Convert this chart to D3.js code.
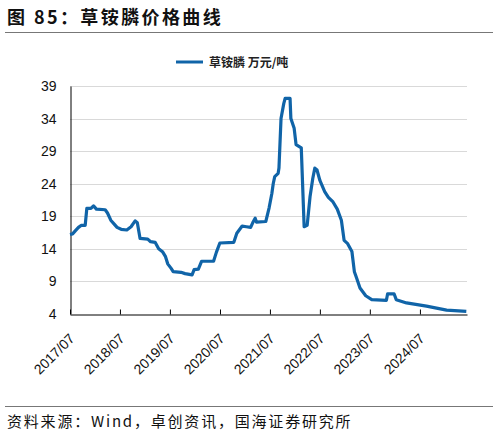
<!DOCTYPE html>
<html>
<head>
<meta charset="utf-8">
<script src="https://cdn.jsdelivr.net/npm/d3@7"></script>
<style>
  html, body { margin: 0; padding: 0; background: #fff; }
  svg { display: block; }
</style>
</head>
<body>
<div id="chart"></div>
<script>
// data
const dates = ["2017-07-01","2017-07-20","2017-08-10","2017-09-01","2017-09-20","2017-10-20","2017-11-01","2017-12-01","2017-12-20","2018-01-10",
  "2018-03-15","2018-04-01","2018-04-25","2018-05-20","2018-06-10","2018-07-10","2018-08-20","2018-09-20","2018-10-20","2018-11-05",
  "2018-11-25","2019-01-20","2019-02-10","2019-03-15","2019-04-10","2019-05-10","2019-05-30","2019-06-15","2019-07-10","2019-07-25",
  "2019-09-20","2019-10-20","2019-12-10","2019-12-25","2020-01-25","2020-02-18","2020-05-15","2020-06-05","2020-06-30","2020-10-10",
  "2020-11-01","2020-12-10","2021-01-10","2021-02-10","2021-02-25","2021-03-15","2021-03-25","2021-06-01","2021-06-25","2021-07-15",
  "2021-07-25","2021-08-05","2021-08-30","2021-09-05","2021-09-20","2021-10-10","2021-10-20","2021-11-25","2021-12-01","2021-12-25",
  "2022-01-08","2022-02-15","2022-03-08","2022-03-30","2022-04-20","2022-05-10","2022-05-25","2022-06-10","2022-07-01","2022-08-05",
  "2022-09-01","2022-10-05","2022-11-05","2022-12-05","2022-12-25","2023-01-20","2023-02-20","2023-03-10","2023-03-25","2023-04-20",
  "2023-06-01","2023-07-15","2023-10-30","2023-11-08","2023-12-25","2024-01-10","2024-03-25","2024-08-18","2025-01-12","2025-06-05"];
const prices = [16.2,16.3,16.8,17.3,17.6,17.6,20.2,20.2,20.6,20.1,
  20.0,19.5,18.4,17.8,17.3,17.0,16.9,17.4,18.3,18.0,
  15.6,15.5,15.1,15.0,14.0,13.5,12.8,11.7,11.0,10.5,
  10.4,10.2,10.0,10.8,10.9,12.1,12.1,13.5,14.9,15.0,
  16.4,17.5,17.4,17.3,18.0,18.7,18.1,18.2,20.3,22.5,
  24.0,25.1,25.6,26.4,34.0,36.3,37.1,37.1,34.0,32.5,
  30.0,29.5,17.4,17.6,22.0,24.8,26.4,26.1,24.5,22.8,
  21.9,21.2,20.1,18.4,15.3,14.8,13.6,10.5,9.6,8.0,
  6.8,6.2,6.1,7.1,7.1,6.2,5.7,5.2,4.6,4.4];
const yTicks = [4, 9, 14, 19, 24, 29, 34, 39];
const xTickLabels = ["2017/07","2018/07","2019/07","2020/07","2021/07","2022/07","2023/07","2024/07"];
const seriesName = "草铵膦 万元/吨";

const W = 498, H = 435;
const parse = d3.timeParse("%Y-%m-%d");
const data = dates.map((d, i) => ({ date: parse(d), value: prices[i] }));

const svg = d3.select("#chart").append("svg")
  .attr("width", W).attr("height", H);

const cjk = "'Noto Sans CJK SC', 'Liberation Sans', sans-serif";
const latin = "'Liberation Sans', Arial, sans-serif";

// title + rules
svg.append("text")
  .attr("x", 7).attr("y", 24)
  .attr("font-family", cjk).attr("font-weight", "bold")
  .attr("font-size", 18).attr("letter-spacing", 2.4).attr("fill", "#111")
  .text("图 85：草铵膦价格曲线");
svg.append("line").attr("x1", 5).attr("x2", 493).attr("y1", 32.5).attr("y2", 32.5)
  .attr("stroke", "#777").attr("stroke-width", 1);
svg.append("line").attr("x1", 5).attr("x2", 493).attr("y1", 406.5).attr("y2", 406.5)
  .attr("stroke", "#777").attr("stroke-width", 1);
svg.append("text")
  .attr("x", 7).attr("y", 427)
  .attr("font-family", cjk).attr("font-size", 15).attr("letter-spacing", 1.8).attr("fill", "#111")
  .text("资料来源：Wind，卓创资讯，国海证券研究所");

// scales
const x = d3.scaleTime()
  .domain([parse("2017-07-01"), parse("2025-06-10")])
  .range([70, 467]);
const y = d3.scaleLinear().domain([4, 39]).range([314, 86]);

// grid
svg.append("g").selectAll("line")
  .data(yTicks.filter(t => t > 4))
  .enter().append("line")
  .attr("x1", 70).attr("x2", 467)
  .attr("y1", d => Math.round(y(d)) + 0.5).attr("y2", d => Math.round(y(d)) + 0.5)
  .attr("stroke", "#d9d9d9").attr("stroke-width", 1);

// y axis
const yAxis = svg.append("g")
  .attr("transform", "translate(70.5,0)")
  .call(d3.axisLeft(y).tickValues(yTicks).tickSize(0).tickPadding(14));
yAxis.select(".domain").attr("stroke", "#000");
yAxis.selectAll("text").attr("font-family", latin).attr("font-size", 14).attr("fill", "#111");

// x axis
const tickDates = xTickLabels.map(s => d3.timeParse("%Y/%m")(s));
const xAxis = svg.append("g")
  .attr("transform", "translate(0,314.5)")
  .call(d3.axisBottom(x).tickValues(tickDates).tickSizeInner(-5).tickSizeOuter(0)
    .tickFormat(d3.timeFormat("%Y/%m")));
xAxis.select(".domain").attr("stroke", "#000");
xAxis.selectAll(".tick line").attr("stroke", "#000");
xAxis.selectAll("text")
  .attr("font-family", latin).attr("font-size", 14).attr("fill", "#111")
  .attr("text-anchor", "end")
  .attr("transform", "translate(5,25) rotate(-45)")
  .attr("dy", 0).attr("y", 0).attr("x", 0);

// series
const line = d3.line().x(d => x(d.date)).y(d => y(d.value));
svg.append("path")
  .datum(data)
  .attr("d", line)
  .attr("fill", "none")
  .attr("stroke", "#1064a8")
  .attr("stroke-width", 3.2)
  .attr("stroke-linejoin", "round");

// legend
svg.append("line").attr("x1", 176).attr("x2", 203).attr("y1", 62).attr("y2", 62)
  .attr("stroke", "#1064a8").attr("stroke-width", 3);
svg.append("text")
  .attr("x", 209).attr("y", 66.5)
  .attr("font-family", cjk).attr("font-size", 12).attr("font-weight", "bold").attr("fill", "#222")
  .text(seriesName);
</script>
</body>
</html>
